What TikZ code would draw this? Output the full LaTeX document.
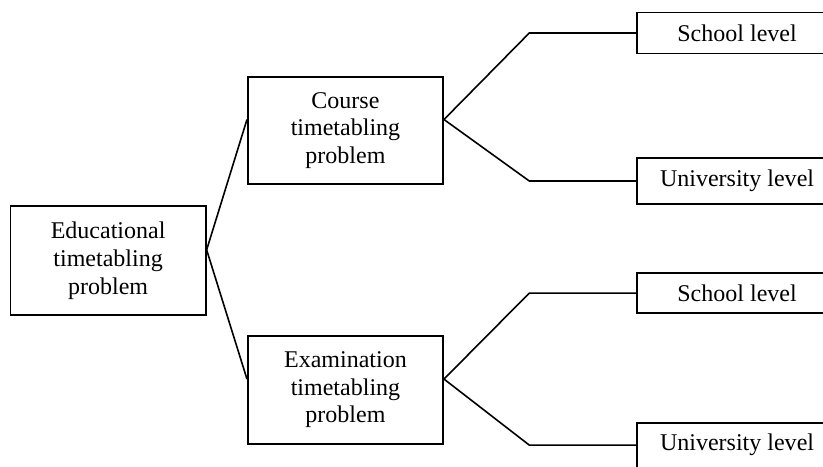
\documentclass[tikz,border=0pt]{standalone}
\usepackage{fontspec}
\setmainfont{Liberation Serif}
\usepackage{tikz}
\usepackage{xcolor}

\begin{document}
\begin{tikzpicture}[
		box/.style={draw={ALMOST_BLACK}, line width={0.9pt}, align=center, inner sep={0pt}, font={\fontsize{12}{13.8}\selectfont}},
		mainbox/.style={box, minimum width={3.43cm}, minimum height={1.90cm}},
		levelbox/.style={box, minimum width={3.51cm}, minimum height={0.76cm}},
		link/.style={draw={ALMOST_BLACK}, line width={0.8pt}}
	]
				\definecolor{ALMOST_BLACK}{RGB}{0, 0, 0}
				\useasboundingbox (0.00cm, 0.00cm) rectangle (14.46cm, -8.19cm);
				\clip (0.00cm, 0.00cm) rectangle (14.46cm, -8.19cm);

				\node[mainbox, minimum height={1.92cm}] (edu) at (1.90cm, -4.58cm) {Educational\\timetabling\\problem};
				\node[mainbox, minimum height={1.88cm}] (course) at (6.07cm, -2.29cm) {Course\\timetabling\\problem};
				\node[mainbox] (exam) at (6.07cm, -6.85cm) {Examination\\timetabling\\problem};

				\node[levelbox, minimum height={0.72cm}] (course_school) at (12.95cm, -0.58cm) {School level};
				\node[levelbox, minimum height={0.81cm}] (course_univ) at (12.95cm, -3.18cm) {University level};
				\node[levelbox, minimum height={0.70cm}] (exam_school) at (12.95cm, -5.15cm) {School level};
				\node[levelbox, minimum height={0.79cm}] (exam_univ) at (12.95cm, -7.82cm) {University level};

				\draw[link] (course.west) ++(0cm, 0.19cm) -- ([yshift={0.19cm}]edu.east) -- ([yshift={0.19cm}]exam.west);

				\draw[link] (course_school.west) -- ([xshift={-1.88cm}]course_school.west) -- ([yshift={0.19cm}]course.east)
 -- ([xshift={-1.88cm}]course_univ.west) -- (course_univ.west);
				\draw[link] (exam_school.west) -- ([xshift={-1.88cm}]exam_school.west) -- ([yshift={0.19cm}]exam.east)
 -- ([xshift={-1.88cm}]exam_univ.west) -- (exam_univ.west);

			\end{tikzpicture}
\end{document}
